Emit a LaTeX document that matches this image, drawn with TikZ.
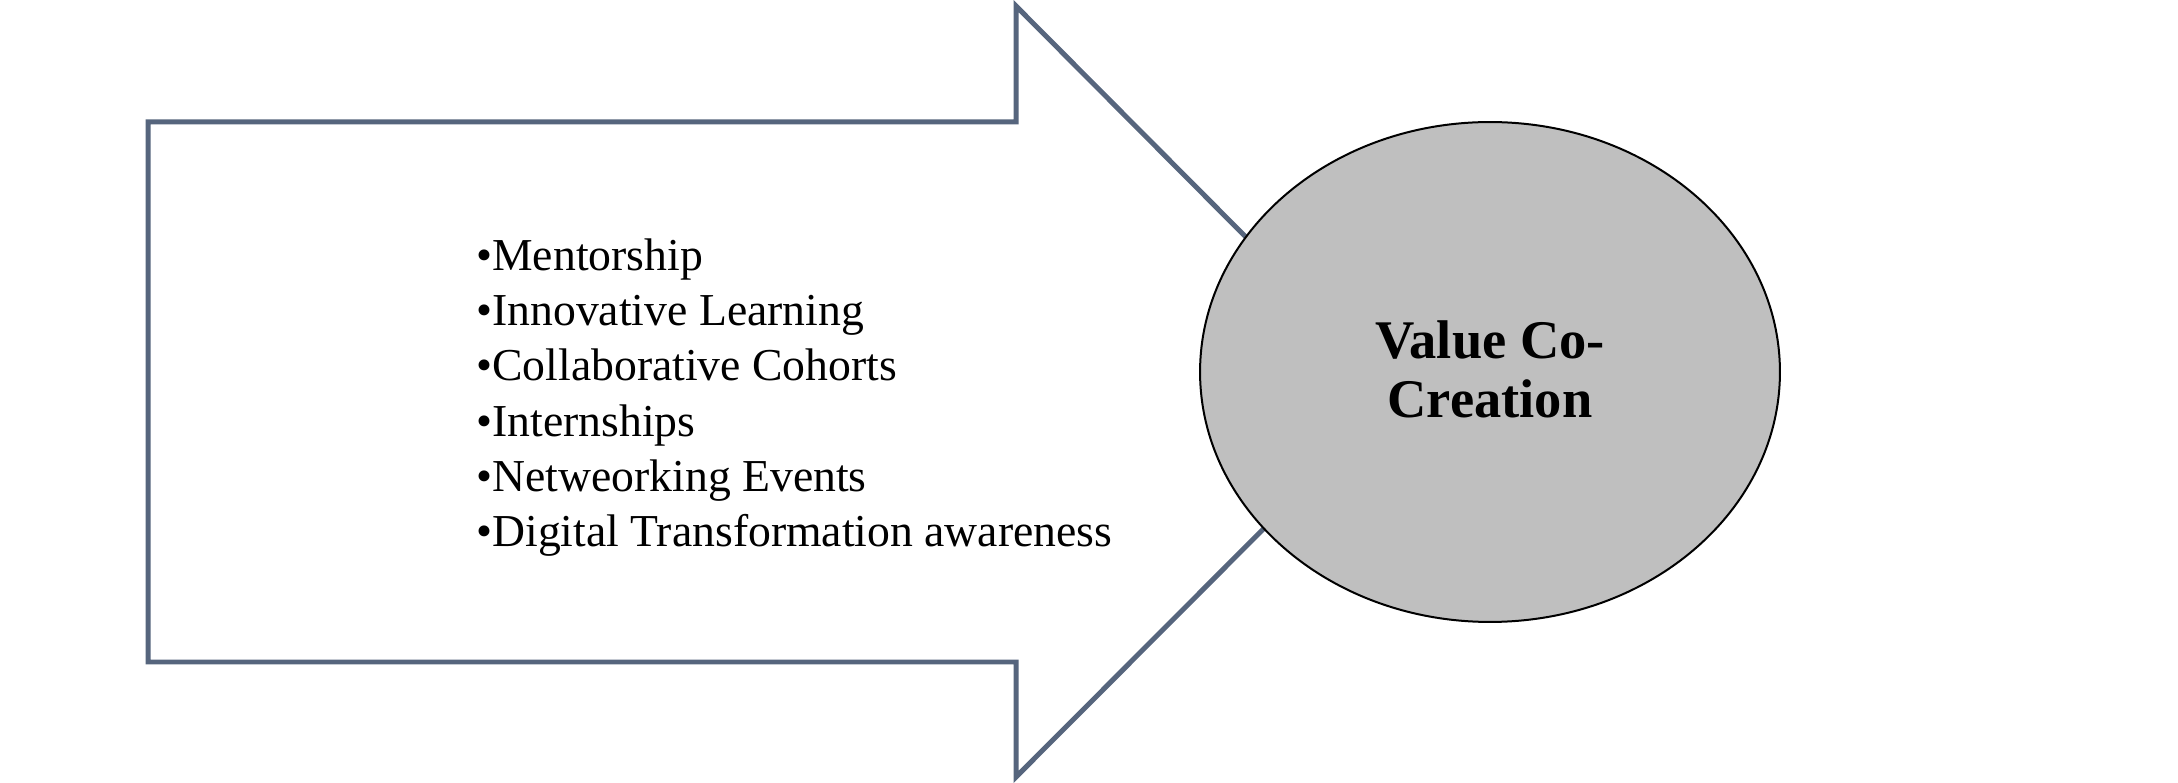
\documentclass[tikz,border=0pt]{standalone}
\usepackage{fontspec}
\setmainfont{Liberation Serif}
\usetikzlibrary{positioning, shapes.geometric}
\definecolor{arrowgray}{HTML}{56657D}
\definecolor{cocreategray}{HTML}{BFBFBF}

\begin{document}
\begin{tikzpicture}[
    x=0.02cm, y=-0.02cm,
    bigarrow/.style={draw=arrowgray, fill=white, line width=0.1cm, line join=miter},
    valuenode/.style={ellipse, draw=black, fill=cocreategray, line width=0.04cm, minimum width=11.6cm, minimum height=10cm, inner sep=0pt},
    valuetext/.style={align=center, inner sep=0pt, font=\fontsize{31}{33.5}\selectfont\bfseries},
    itemlist/.style={anchor=base west, inner sep=0pt, align=left, font=\fontsize{26}{31.5}\selectfont}
]
\useasboundingbox (0,0) rectangle (2178,783);
% big block arrow pointing at the ellipse
\draw[bigarrow] (148,122) -- (1016,122) -- (1016,6) -- (1400,392) -- (1016,777) -- (1016,662) -- (148,662) -- cycle;
\node[itemlist] (practices) at (476,547) {\textbullet Mentorship\\
  \textbullet Innovative Learning\\
  \textbullet Collaborative Cohorts\\
  \textbullet Internships\\
  \textbullet Netweorking Events\\
  \textbullet Digital Transformation awareness};
\node[valuenode] (value) at (1490,372) {};
\node[valuetext] (valuelabel) at (1490,369) {Value Co-\\Creation};
\end{tikzpicture}
\end{document}
